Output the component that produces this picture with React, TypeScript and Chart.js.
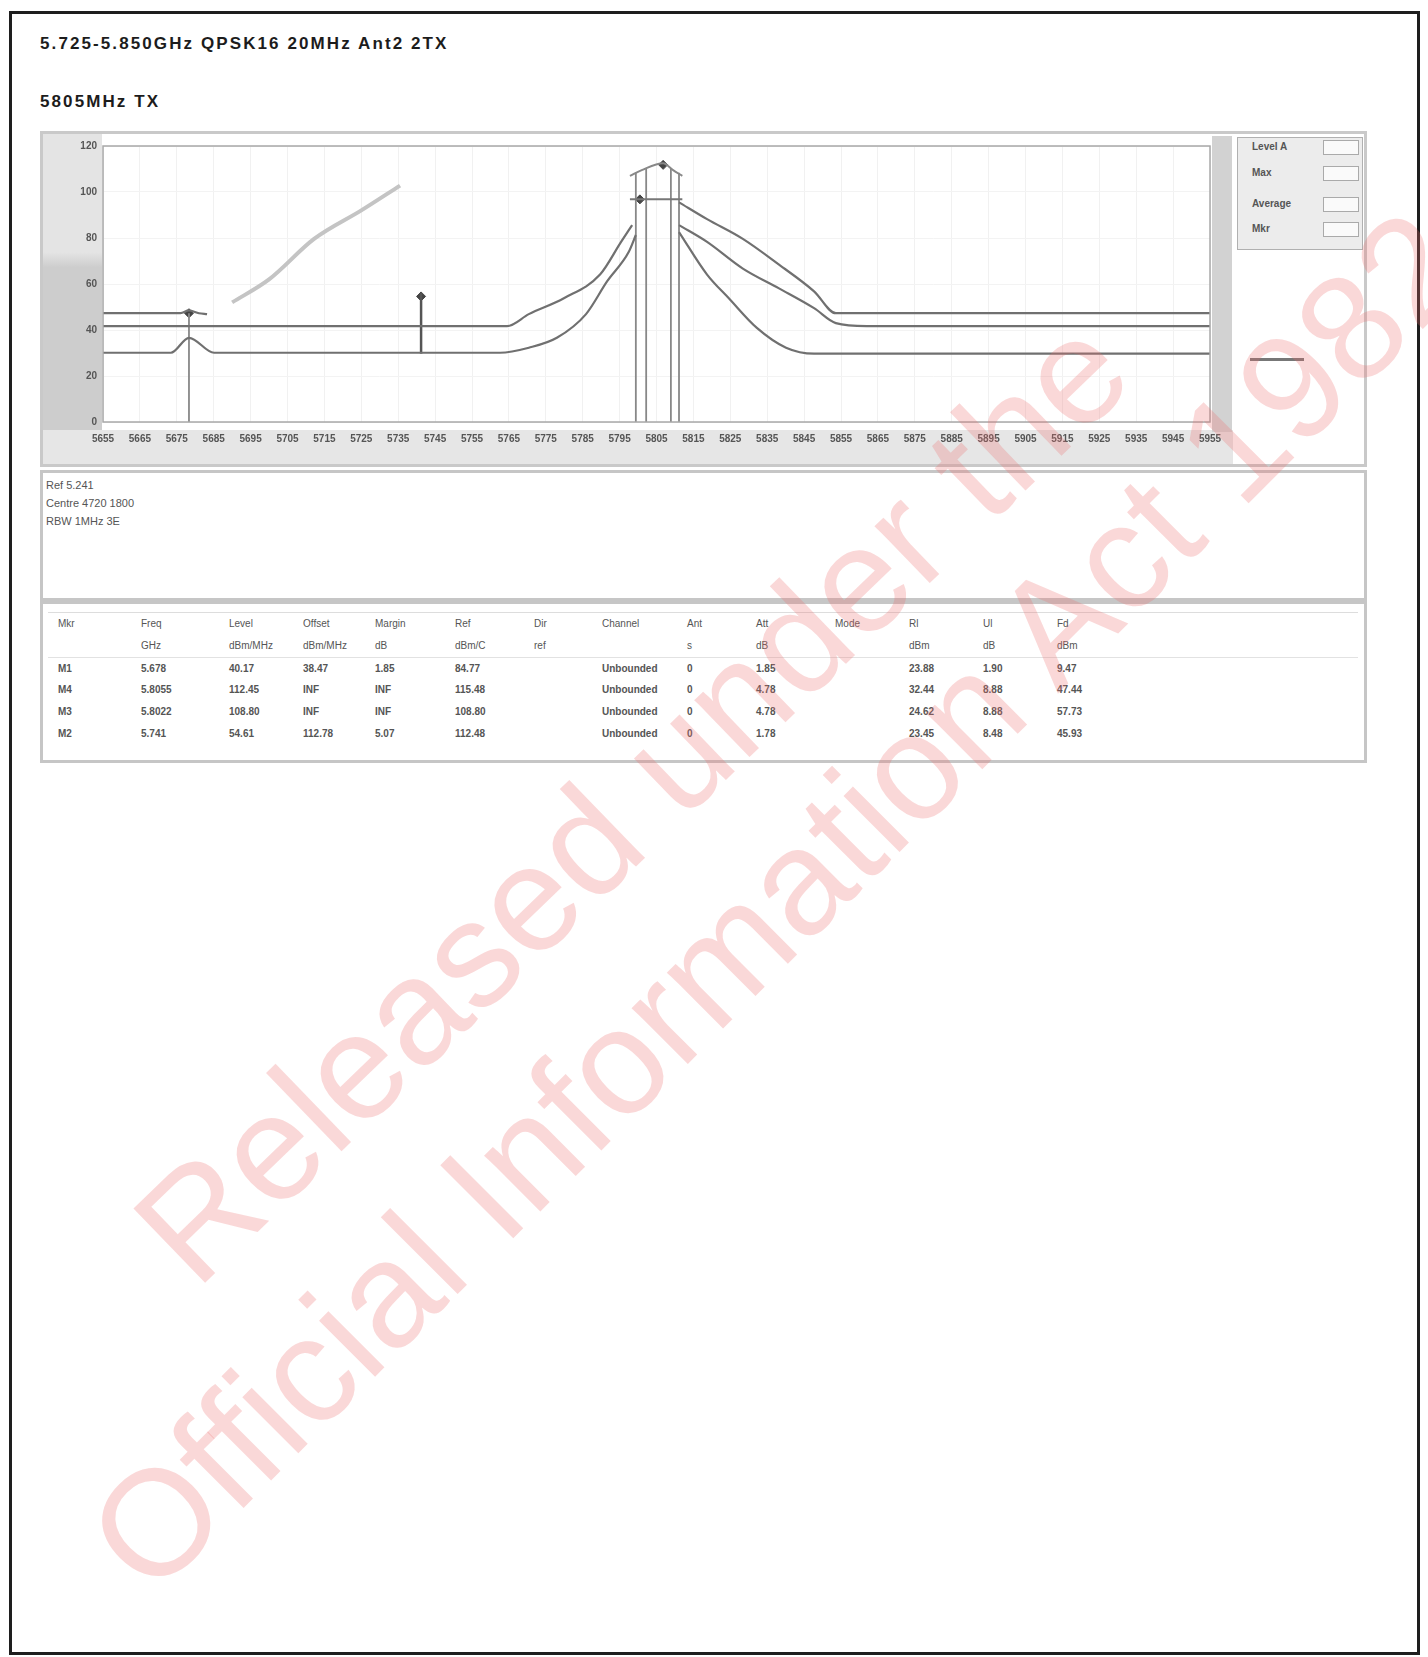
import React, { useEffect, useRef } from "react";
import { Chart, registerables } from "chart.js";
Chart.register(...registerables);

// ---------- data ----------
const titleText = "5.725-5.850GHz QPSK16 20MHz Ant2 2TX";
const subtitleText = "5805MHz TX";

const yTickValues = [0, 20, 40, 60, 80, 100, 120];
const xTickValues = [5655, 5665, 5675, 5685, 5695, 5705, 5715, 5725, 5735, 5745, 5755, 5765, 5775, 5785, 5795, 5805, 5815, 5825, 5835, 5845, 5855, 5865, 5875, 5885, 5895, 5905, 5915, 5925, 5935, 5945, 5955];
const xTickLabels = ["5655", "5665", "5675", "5685", "5695", "5705", "5715", "5725", "5735", "5745", "5755", "5765", "5775", "5785", "5795", "5805", "5815", "5825", "5835", "5845", "5855", "5865", "5875", "5885", "5895", "5905", "5915", "5925", "5935", "5945", "5955"];

const topFreq = [5655, 5676, 5678.3, 5681, 5683.2, 5760, 5811.1, 5818.7, 5828.4, 5838.2, 5847.7, 5853.6, 5900, 5955];
const topLevel = [47.3, 47.3, 48.5, 47.3, 46.9, null, 95.5, 88.2, 79.6, 68.4, 56.8, 47.3, 47.3, 47.3];

const midFreq = [5655, 5764.5, 5770.4, 5779.9, 5789.7, 5795.4, 5798.4, 5805, 5811.1, 5818.7, 5828.4, 5838.2, 5847.7, 5853.6, 5862, 5955];
const midLevel = [41.7, 41.7, 46.9, 53.8, 64.1, 78.3, 85.6, null, 85.6, 78.3, 66.7, 58.1, 49.5, 43.0, 41.7, 41.7];

const botFreq = [5655, 5673.4, 5678.3, 5685.1, 5762.6, 5770.4, 5778, 5785.9, 5791.6, 5797.5, 5799.4, 5805, 5811.1, 5818.7, 5824.6, 5832.2, 5840.1, 5847.7, 5955];
const botLevel = [30.1, 30.1, 36.6, 30.1, 30.1, 32.3, 36.6, 46.9, 61.1, 74.0, 81.3, null, 82.6, 64.1, 53.8, 40.9, 32.3, 29.7, 29.7];

const diagFreq = [5690, 5700, 5712.2, 5725, 5735.5];
const diagLevel = [52.0, 62.0, 79.6, 92.0, 102.8];

const vLineFreq = [5678.3, 5799.4, 5802.2, 5808.9, 5811.1];
const vLineTop = [47.3, 108.4, 110.0, 110.0, 108.4];

const m2Freq = [5741.2, 5741.2];
const m2Level = [29.7, 56.0];

const capFreq = [5797.8, 5801, 5806.8, 5809.5, 5812];
const capLevel = [107.0, 109.5, 112.5, 109.5, 107.0];
const boxFreq = [5797.8, 5812];
const boxLevel = [96.8, 96.8];

const markerFreq = [5678.3, 5741.2, 5806.8, 5800.5];
const markerLevel = [47.3, 54.6, 111.8, 96.8];

const legendLabels = ["Level A", "Max", "Average", "Mkr"];

const infoLines = ["Ref 5.241", "Centre 4720 1800", "RBW 1MHz 3E"];

const tableHeader = ["Mkr", "Freq", "Level", "Offset", "Margin", "Ref", "Dir", "Channel", "Ant", "Att", "Mode", "Rl", "Ul", "Fd"];
const tableUnits = ["", "GHz", "dBm/MHz", "dBm/MHz", "dB", "dBm/C", "ref", "", "s", "dB", "", "dBm", "dB", "dBm"];
const tableRows = [
  ["M1", "5.678", "40.17", "38.47", "1.85", "84.77", "", "Unbounded", "0", "1.85", "", "23.88", "1.90", "9.47"],
  ["M4", "5.8055", "112.45", "INF", "INF", "115.48", "", "Unbounded", "0", "4.78", "", "32.44", "8.88", "47.44"],
  ["M3", "5.8022", "108.80", "INF", "INF", "108.80", "", "Unbounded", "0", "4.78", "", "24.62", "8.88", "57.73"],
  ["M2", "5.741", "54.61", "112.78", "5.07", "112.48", "", "Unbounded", "0", "1.78", "", "23.45", "8.48", "45.93"],
];
const tableColX = [58, 141, 229, 303, 375, 455, 534, 602, 687, 756, 835, 909, 983, 1057];

// ---------- chart ----------
function pts(f: number[], l: (number | null)[]) {
  return f.map((x, i) => ({ x, y: l[i] }));
}

const frame = {
  id: "frame",
  afterDraw(chart: any) {
    const { ctx, chartArea: a } = chart;
    ctx.save();
    ctx.strokeStyle = "#a8a8a8";
    ctx.lineWidth = 1.5;
    ctx.strokeRect(a.left, a.top, a.right - a.left, a.bottom - a.top);
    ctx.restore();
  },
};

function SpectrumChart() {
  const ref = useRef<HTMLCanvasElement | null>(null);
  useEffect(() => {
    if (!ref.current) return;
    const traceColor = "#707070";
    const base = { pointRadius: 0, fill: false, spanGaps: false, cubicInterpolationMode: "monotone" as const };
    const datasets: any[] = [
      { ...base, data: pts(topFreq, topLevel), borderColor: traceColor, borderWidth: 2.2 },
      { ...base, data: pts(midFreq, midLevel), borderColor: traceColor, borderWidth: 2.2 },
      { ...base, data: pts(botFreq, botLevel), borderColor: traceColor, borderWidth: 2.2 },
      { ...base, data: pts(diagFreq, diagLevel), borderColor: "#c4c4c4", borderWidth: 4 },
      { ...base, data: pts(capFreq, capLevel), borderColor: "#888", borderWidth: 2 },
      { ...base, data: pts(boxFreq, boxLevel), borderColor: "#777", borderWidth: 2, cubicInterpolationMode: "default", tension: 0 },
      { ...base, data: pts(m2Freq, m2Level), borderColor: "#555", borderWidth: 2.5, tension: 0 },
    ];
    vLineFreq.forEach((f, i) => {
      datasets.push({ ...base, tension: 0, data: [{ x: f, y: 0 }, { x: f, y: vLineTop[i] }], borderColor: "#888", borderWidth: 1.8 });
    });
    datasets.push({
      type: "scatter",
      data: pts(markerFreq, markerLevel),
      pointStyle: "rectRot",
      pointRadius: 4.5,
      backgroundColor: "#444",
      borderColor: "#444",
      showLine: false,
    });
    const chart = new Chart(ref.current, {
      type: "line",
      data: { datasets },
      plugins: [frame],
      options: {
        animation: false,
        responsive: false,
        events: [],
        layout: { padding: { top: 9, right: 20, left: 0, bottom: 0 } },
        plugins: { legend: { display: false }, tooltip: { enabled: false } },
        scales: {
          x: {
            type: "linear",
            min: 5655,
            max: 5955,
            afterBuildTicks: (scale: any) => {
              scale.ticks = xTickValues.map((v) => ({ value: v }));
            },
            afterFit: (scale: any) => {
              scale.height = 30;
              scale.paddingLeft = 0;
              scale.paddingRight = 0;
            },
            ticks: {
              autoSkip: false,
              maxRotation: 0,
              minRotation: 0,
              padding: 11,
              color: "#555",
              font: { family: "Liberation Sans", size: 10, weight: "bold" },
              callback: (v: any) => {
                const i = xTickValues.indexOf(Number(v));
                return i >= 0 ? xTickLabels[i] : "";
              },
            },
            grid: { color: "#f1f1f1", drawTicks: false },
            border: { display: false },
          },
          y: {
            min: 0,
            max: 120,
            afterBuildTicks: (scale: any) => {
              scale.ticks = yTickValues.map((v) => ({ value: v }));
            },
            afterFit: (scale: any) => {
              scale.width = 43;
            },
            ticks: {
              padding: 6,
              color: "#555",
              font: { family: "Liberation Sans", size: 10, weight: "bold" },
            },
            grid: { color: "#f3f3f3", drawTicks: false },
            border: { display: false },
          },
        },
      } as any,
    });
    return () => chart.destroy();
  }, []);
  return (
    <canvas
      ref={ref}
      width={1170}
      height={318}
      style={{ position: "absolute", left: 60, top: 134, width: 1170, height: 318 }}
    />
  );
}

const abs = (s: React.CSSProperties): React.CSSProperties => ({ position: "absolute", ...s });

export default function App() {
  const font = '"Liberation Sans", Arial, sans-serif';
  return (
    <div style={abs({ left: 0, top: 0, width: 1428, height: 1657, background: "#fff", fontFamily: font, overflow: "hidden" })}>
      {/* page border */}
      <div style={abs({ left: 9, top: 11, width: 1411, height: 1644, border: "3px solid #1e1e1e", boxSizing: "border-box" })} />

      <div style={abs({ left: 40, top: 34, fontSize: 17, fontWeight: "bold", color: "#1c1c1c", whiteSpace: "nowrap", letterSpacing: 2.1 })}>{titleText}</div>
      <div style={abs({ left: 40, top: 92, fontSize: 17, fontWeight: "bold", color: "#1c1c1c", whiteSpace: "nowrap", letterSpacing: 2.1 })}>{subtitleText}</div>

      {/* chart panel */}
      <div style={abs({ left: 40, top: 131, width: 1327, height: 336, border: "3px solid #c9c9c9", boxSizing: "border-box", background: "#fff" })} />
      <div style={abs({ left: 43, top: 134, width: 59, height: 296, background: "linear-gradient(#e4e4e4 0%, #e4e4e4 40%, #cdcdcd 45%, #cdcdcd 100%)" })} />
      <div style={abs({ left: 43, top: 430, width: 1190, height: 34, background: "#e6e6e6" })} />
      <div style={abs({ left: 1212, top: 136, width: 20, height: 296, background: "#d2d2d2" })} />
      <SpectrumChart />

      {/* legend */}
      <div style={abs({ left: 1237, top: 137, width: 126, height: 113, border: "1px solid #b0b0b0", background: "#ececec", boxSizing: "border-box" })} />
      {legendLabels.map((l, i) => (
        <React.Fragment key={l}>
          <div style={abs({ left: 1252, top: [141, 167, 198, 223][i], fontSize: 10, fontWeight: "bold", color: "#555", whiteSpace: "nowrap" })}>{l}</div>
          <div style={abs({ left: 1323, top: [140, 166, 197, 222][i], width: 36, height: 15, border: "1px solid #aaa", background: "#fafafa", boxSizing: "border-box" })} />
        </React.Fragment>
      ))}
      <div style={abs({ left: 1250, top: 358, width: 54, height: 3, background: "#777" })} />

      {/* info box */}
      <div style={abs({ left: 40, top: 470, width: 1327, height: 131, border: "3px solid #c6c6c6", boxSizing: "border-box", background: "#fff" })} />
      {infoLines.map((t, i) => (
        <div key={t} style={abs({ left: 46, top: 479 + i * 18, fontSize: 11, color: "#555", whiteSpace: "nowrap" })}>{t}</div>
      ))}

      {/* table */}
      <div style={abs({ left: 40, top: 601, width: 1327, height: 162, border: "3px solid #c6c6c6", boxSizing: "border-box", background: "#fff" })} />
      <div style={abs({ left: 48, top: 612, width: 1310, height: 1, background: "#ddd" })} />
      <div style={abs({ left: 48, top: 657, width: 1310, height: 1, background: "#e2e2e2" })} />
      {[tableHeader, tableUnits, ...tableRows].map((row, r) => (
        <React.Fragment key={r}>
          {row.map((c, j) => (
            <div key={j} style={abs({ left: tableColX[j], top: [618, 640, 663, 684, 706, 728][r], fontSize: 10, color: "#555", fontWeight: r >= 2 ? "bold" : "normal", whiteSpace: "nowrap" })}>{c}</div>
          ))}
        </React.Fragment>
      ))}

      {/* watermark */}
      <div style={abs({ left: 108, top: 1200, fontSize: 150, lineHeight: 1, color: "rgba(238,110,110,0.27)", whiteSpace: "nowrap", transform: "rotate(-44deg)", transformOrigin: "0 0", pointerEvents: "none" })}>Released under the</div>
      <div style={abs({ left: 62, top: 1510, fontSize: 150, lineHeight: 1, color: "rgba(238,110,110,0.27)", whiteSpace: "nowrap", transform: "rotate(-45deg)", transformOrigin: "0 0", pointerEvents: "none" })}>Official Information Act 1982</div>
    </div>
  );
}
